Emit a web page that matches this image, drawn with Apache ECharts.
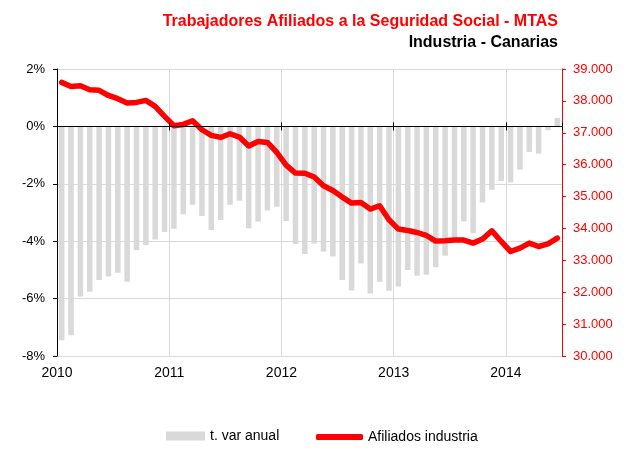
<!DOCTYPE html>
<html>
<head>
<meta charset="utf-8">
<script src="https://cdn.jsdelivr.net/npm/echarts@6/dist/echarts.min.js"></script>
<style>html,body{margin:0;padding:0;background:#fff}#c{width:632px;height:450px}</style>
</head>
<body>
<div id="c"></div>
<script>
// Monthly data, Jan 2010 - Jun 2014
var yearLabels = ['2010', '2011', '2012', '2013', '2014'];
var varAnual = [
  -7.45, -7.28, -5.93, -5.76, -5.35, -5.23, -5.10, -5.41, -4.31, -4.14, -3.94, -3.68,
  -3.57, -3.06, -2.73, -3.12, -3.61, -3.26, -2.73, -2.59, -3.55, -3.32, -2.93, -2.80,
  -3.30, -4.10, -4.45, -4.08, -4.36, -4.53, -5.35, -5.72, -4.78, -5.82, -5.41, -5.73,
  -5.58, -5.00, -5.20, -5.17, -4.91, -4.51, -3.90, -3.31, -3.72, -2.65, -2.21, -1.90,
  -1.95, -1.51, -0.89, -0.95, -0.13, 0.29
];
var afiliados = [
  38580, 38454, 38476, 38350, 38330, 38170, 38068, 37933, 37953, 38015, 37827, 37513,
  37220, 37262, 37378, 37095, 36917, 36854, 36970, 36866, 36584, 36728, 36697, 36383,
  35988, 35737, 35730, 35611, 35338, 35191, 34984, 34795, 34814, 34607, 34711, 34271,
  33980, 33936, 33873, 33779, 33603, 33612, 33634, 33634, 33540, 33666, 33926, 33591,
  33277, 33383, 33540, 33434, 33518, 33697
];
var seriesNames = ['t. var anual', 'Afiliados industria'];
var titleText = 'Trabajadores Afiliados a la Seguridad Social - MTAS';
var subtitleText = 'Industria - Canarias';

var nMonths = varAnual.length;
var barData = varAnual.map(function (v, i) { return [i + 0.5, v]; });
var lineData = afiliados.map(function (v, i) { return [i + 0.5, v]; });

var FONT = 'Liberation Sans, Arial, sans-serif';
var chart = echarts.init(document.getElementById('c'), null, {renderer: 'canvas'});
var zeroAxisBase = {
  type: 'value', min: 0, max: nMonths, interval: 12, position: 'bottom', z: 10,
  axisLine: {show: true, onZero: true, onZeroAxisIndex: 0, lineStyle: {color: '#000', width: 1}},
  axisLabel: {show: false}, splitLine: {show: false}
};
chart.setOption({
  backgroundColor: '#fff',
  animation: false,
  title: [
    {text: titleText, right: 74, top: 14, padding: 0,
     textStyle: {fontFamily: FONT, fontSize: 16, fontWeight: 'bold', color: '#ff0000'}},
    {text: subtitleText, right: 74, top: 35, padding: 0,
     textStyle: {fontFamily: FONT, fontSize: 16, fontWeight: 'bold', color: '#000'}}
  ],
  legend: [
    {data: [{name: seriesNames[0], icon: 'rect'}], left: 166, top: 429, itemWidth: 39, itemHeight: 9, padding: 0,
     textStyle: {fontFamily: FONT, fontSize: 14, color: '#000'}},
    {data: [{name: seriesNames[1], icon: 'roundRect', itemStyle: {color: '#ff0000'}}],
     left: 316, top: 430, itemWidth: 47, itemHeight: 6, padding: 0,
     textStyle: {fontFamily: FONT, fontSize: 14, color: '#000'}}
  ],
  grid: {left: 57, right: 70, top: 69, bottom: 94, containLabel: false},
  xAxis: [
    {type: 'value', min: 0, max: nMonths, interval: 12, position: 'bottom',
     axisLine: {show: false, onZero: false}, axisTick: {show: false},
     axisLabel: {margin: 10, fontFamily: FONT, fontSize: 14, color: '#000',
       formatter: function (v) { return (v % 12 === 0 && v < nMonths) ? yearLabels[v / 12] : ''; }},
     splitLine: {show: true, lineStyle: {color: '#d9d9d9', width: 1}}},
    Object.assign({}, zeroAxisBase, {axisTick: {show: true, inside: true, length: 4, lineStyle: {color: '#000'}}}),
    Object.assign({}, zeroAxisBase, {axisTick: {show: true, inside: false, length: 4, lineStyle: {color: '#000'}}})
  ],
  yAxis: [
    {type: 'value', min: -8, max: 2, interval: 2, position: 'left',
     axisLine: {show: true, onZero: false, lineStyle: {color: '#000'}},
     axisTick: {show: true, length: 4, lineStyle: {color: '#000'}},
     axisLabel: {margin: 12, fontFamily: FONT, fontSize: 13, color: '#000', formatter: '{value}%'},
     splitLine: {show: true, lineStyle: {color: '#d9d9d9', width: 1}}},
    {type: 'value', min: 30000, max: 39000, interval: 1000, position: 'right',
     axisLine: {show: true, onZero: false, lineStyle: {color: '#ff0000'}},
     axisTick: {show: true, length: 4, lineStyle: {color: '#ff0000'}},
     axisLabel: {margin: 11, fontFamily: FONT, fontSize: 13, color: '#ff0000',
       formatter: function (v) { return (v / 1000).toFixed(3); }},
     splitLine: {show: false}}
  ],
  series: [
    {name: seriesNames[0], type: 'bar', xAxisIndex: 0, yAxisIndex: 0, data: barData,
     barWidth: 5.5, itemStyle: {color: '#d9d9d9'}, z: 1},
    {name: seriesNames[1], type: 'line', xAxisIndex: 0, yAxisIndex: 1, data: lineData,
     symbol: 'none', showSymbol: false,
     lineStyle: {color: '#ff0000', width: 5.5, join: 'round', cap: 'round'},
     itemStyle: {color: '#ff0000'}, z: 5}
  ]
});
</script>
</body>
</html>
